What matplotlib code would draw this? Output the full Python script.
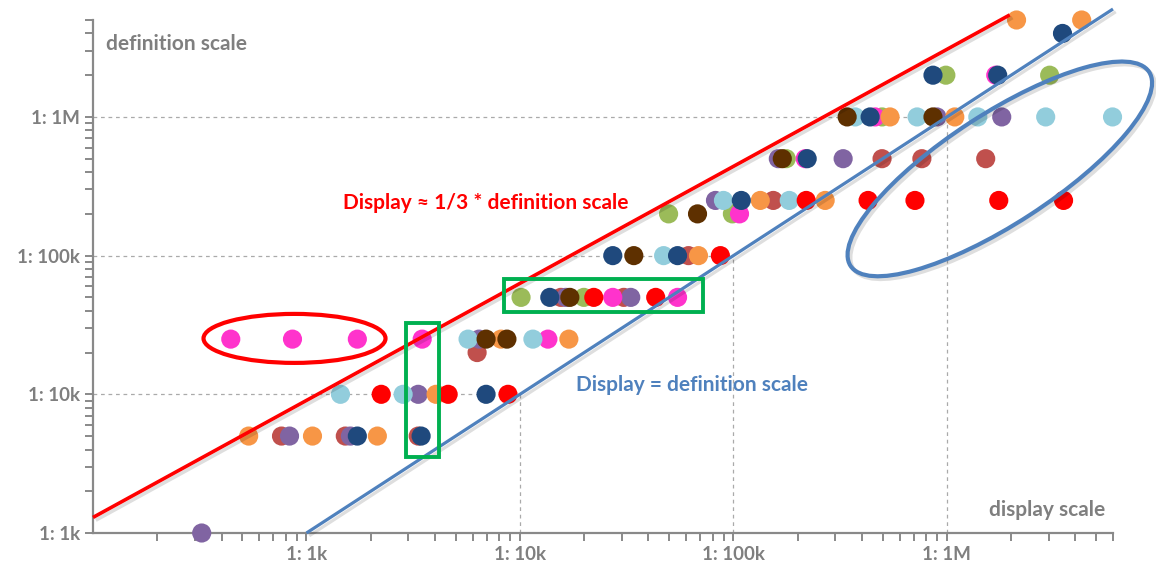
import numpy as np
import matplotlib
matplotlib.use("Agg")
import matplotlib.pyplot as plt
import matplotlib.patheffects as pe
from matplotlib.patches import Ellipse, Rectangle
from matplotlib.transforms import ScaledTranslation
from matplotlib.ticker import LogLocator, NullFormatter

plt.rcParams['font.family'] = ['Lato', 'DejaVu Sans']

# display scale (x) / definition scale (y) per source
pink_x = [442, 860, 1731, 3484, 13520, 27220, 54740, 106800, 216900, 461300, 1694000]
pink_y = [25e3, 25e3, 25e3, 25e3, 25e3, 50e3, 50e3, 200e3, 500e3, 1e6, 2e6]

brick_x = [764, 1520, 3337, 6300, 15550, 30640, 61600, 153700, 496900, 763500, 1520000]
brick_y = [5e3, 5e3, 5e3, 20e3, 50e3, 50e3, 100e3, 250e3, 500e3, 500e3, 500e3]

purple_x = [323, 833, 1606, 3337, 6432, 16410, 33040, 82400, 162300, 326600, 898000, 1807000]
purple_y = [1e3, 5e3, 5e3, 10e3, 25e3, 50e3, 50e3, 250e3, 500e3, 500e3, 1e6, 1e6]

olive_x = [10120, 19920, 49700, 98900, 176800, 496900, 989000, 3030000]
olive_y = [50e3, 50e3, 200e3, 200e3, 500e3, 1e6, 2e6, 2e6]

lblue_x = [1443, 2837, 5714, 11500, 47100, 89800, 182600, 371900, 725200, 1396000, 2903000, 5970000]
lblue_y = [10e3, 10e3, 25e3, 25e3, 100e3, 250e3, 250e3, 1e6, 1e6, 1e6, 1e6, 1e6]

orange_x = [536, 1067, 2148, 4047, 8150, 16950, 68600, 133600, 269000, 541500, 1089000, 2120000, 4280000]
orange_y = [5e3, 5e3, 5e3, 10e3, 25e3, 25e3, 100e3, 250e3, 250e3, 1e6, 1e6, 5e6, 5e6]

red_x = [2240, 4610, 8790, 22180, 43250, 86900, 219300, 427400, 708700, 1750000, 3520000]
red_y = [10e3, 10e3, 10e3, 50e3, 50e3, 100e3, 250e3, 250e3, 250e3, 250e3, 250e3]

dblue_x = [1731, 3444, 6940, 13800, 27220, 54740, 108900, 221600, 436900, 860700, 1730000, 3480000]
dblue_y = [5e3, 5e3, 10e3, 50e3, 100e3, 100e3, 250e3, 500e3, 1e6, 2e6, 2e6, 4e6]

brown_x = [6940, 8690, 17130, 34150, 67900, 169400, 341000, 860700]
brown_y = [25e3, 25e3, 50e3, 100e3, 200e3, 500e3, 1e6, 1e6]

series = [
    (brick_x, brick_y, "#C0504D"),
    (purple_x, purple_y, "#8064A2"),
    (olive_x, olive_y, "#9BBB59"),
    (pink_x, pink_y, "#FF33CC"),
    (lblue_x, lblue_y, "#92CDDC"),
    (orange_x, orange_y, "#F79646"),
    (red_x, red_y, "#FF0000"),
    (dblue_x, dblue_y, "#1F497D"),
    (brown_x, brown_y, "#5E3000"),
]

# reference lines
red_line_x = [100, 1.97e6]
red_line_y = [1295, 5.44e6]
blue_line_x = [1e3, 6e6]
blue_line_y = [1e3, 6e6]

major = [1e3, 1e4, 1e5, 1e6]
major_labels = ["1: 1k", "1: 10k", "1: 100k", "1: 1M"]

gray = "#898989"
label_gray = "#7F7F7F"

fig = plt.figure(figsize=(11.56, 5.63), dpi=100)
ax = fig.add_axes([93 / 1156, 30 / 563, 1020 / 1156, 513 / 563])
ax.set_xscale("log")
ax.set_yscale("log")

# dashed "L" guides at each decade
for v in major[1:]:
    ax.plot([100, v], [v, v], color="#AAAAAA", lw=0.9, ls=(0, (3, 3)), zorder=1)
    ax.plot([v, v], [1e3, v], color="#AAAAAA", lw=0.9, ls=(0, (3, 3)), zorder=1)

shadow = [pe.SimpleLineShadow(offset=(2, -2), alpha=0.13, shadow_color="black"), pe.Normal()]
ax.plot(red_line_x, red_line_y, color="#FF0000", lw=2.6, clip_on=False, zorder=4,
        path_effects=shadow, solid_capstyle="butt")
ax.plot(blue_line_x, blue_line_y, color="#4F81BD", lw=2.3, clip_on=False, zorder=4,
        path_effects=shadow, solid_capstyle="butt")

for xs, ys, c in series:
    ax.scatter(xs, ys, s=190, color=c, edgecolor="none", clip_on=False, zorder=3)

# highlight boxes
green = "#00B050"
ax.add_patch(Rectangle((2930, 3510), 4180 - 2930, 32600 - 3510, fill=False,
                       edgecolor=green, lw=2.8, zorder=5))
ax.add_patch(Rectangle((8410, 39100), 72400 - 8410, 67600 - 39100, fill=False,
                       edgecolor=green, lw=2.8, zorder=5))

# ellipses sized in inches, centred in data coords
tr_red = fig.dpi_scale_trans + ScaledTranslation(879, 25.3e3, ax.transData)
ax.add_patch(Ellipse((0, 0), 1.82, 0.49, angle=0, transform=tr_red, fill=False,
                     edgecolor="#FF0000", lw=3, zorder=5, clip_on=False))
tr_blue = fig.dpi_scale_trans + ScaledTranslation(1.77e6, 422e3, ax.transData)
ax.add_patch(Ellipse((0, 0), 3.56, 1.10, angle=33, transform=tr_blue, fill=False,
                     edgecolor="#4F81BD", lw=3, zorder=5, clip_on=False,
                     path_effects=shadow))

ax.set_xlim(100, 6e6)
ax.set_ylim(1e3, 5e6)

for s in ["top", "right"]:
    ax.spines[s].set_visible(False)
for s in ["left", "bottom"]:
    ax.spines[s].set_color(gray)
    ax.spines[s].set_linewidth(1.6)

ax.set_xticks(major)
ax.set_xticklabels(major_labels)
ax.set_yticks(major)
ax.set_yticklabels(major_labels)
ax.xaxis.set_minor_locator(LogLocator(base=10, subs=np.arange(2, 10)))
ax.yaxis.set_minor_locator(LogLocator(base=10, subs=np.arange(2, 10)))
ax.xaxis.set_minor_formatter(NullFormatter())
ax.yaxis.set_minor_formatter(NullFormatter())
ax.tick_params(which="both", direction="out", color=gray, width=1.4, length=5.5)
ax.tick_params(which="major", labelsize=13.5, labelcolor=label_gray, pad=4)
for t in ax.get_xticklabels() + ax.get_yticklabels():
    t.set_fontweight("bold")

ax.text(0.013, 0.953, "definition scale", transform=ax.transAxes, fontsize=15,
        fontweight="bold", color=label_gray, va="center", ha="left")
ax.text(0.992, 0.045, "display scale", transform=ax.transAxes, fontsize=15,
        fontweight="bold", color=label_gray, va="center", ha="right")
ax.text(0.245, 0.643, "Display ≈ 1/3 * definition scale", transform=ax.transAxes,
        fontsize=15, fontweight="bold", color="#FF0000", va="center", ha="left")
ax.text(0.4735, 0.2885, "Display = definition scale", transform=ax.transAxes,
        fontsize=15, fontweight="bold", color="#4F81BD", va="center", ha="left")

fig.savefig("out.png", dpi=100)
